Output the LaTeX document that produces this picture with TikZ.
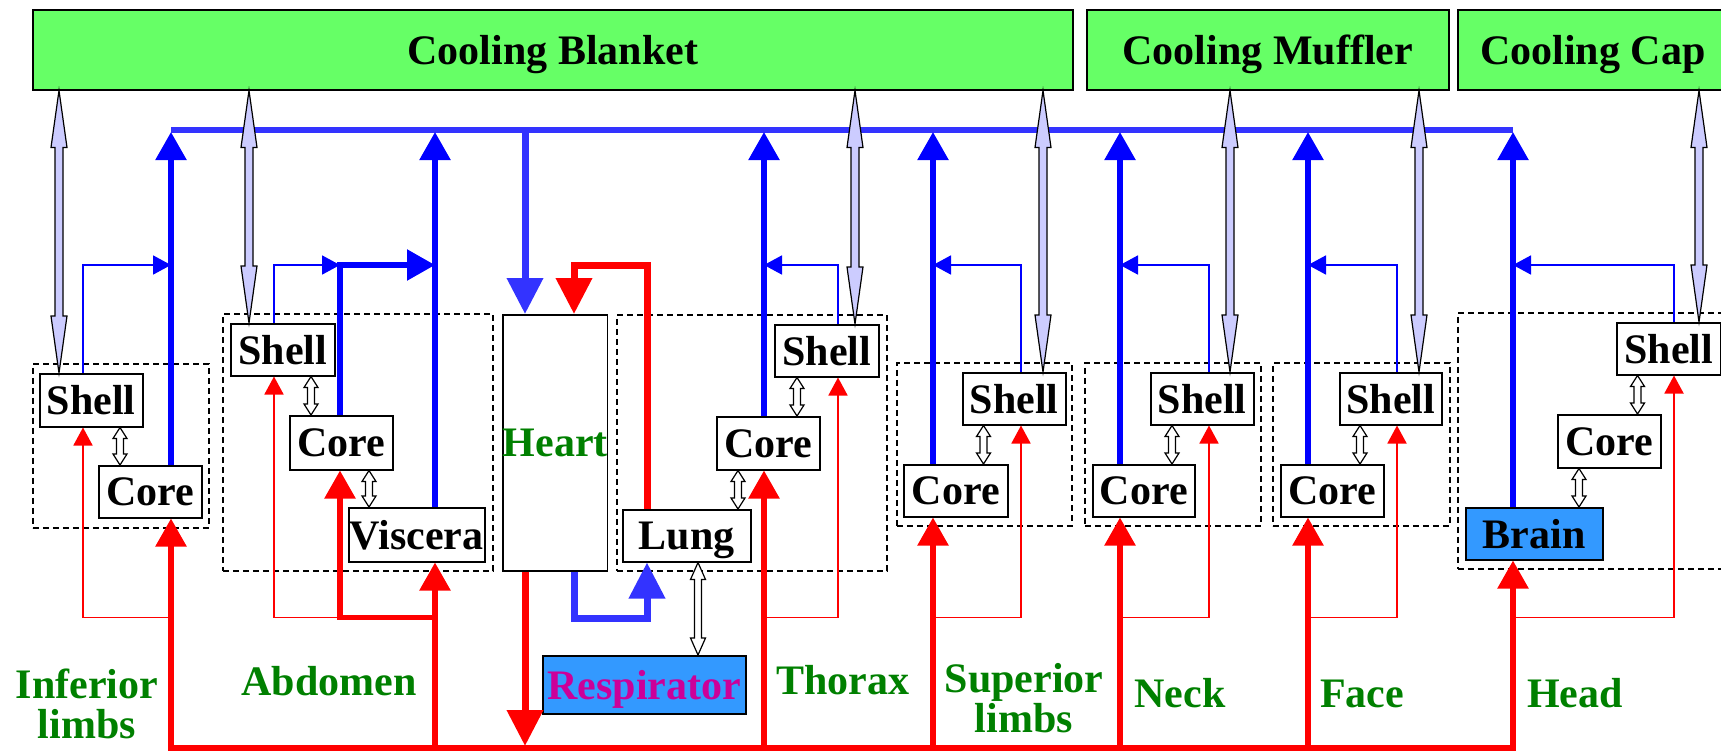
\documentclass[tikz,border=0pt]{standalone}
\usepackage{fontspec}
\setmainfont{Liberation Serif}
\usetikzlibrary{arrows.meta,calc}
\definecolor{cgreen}{RGB}{102,255,102}
\definecolor{cblue}{RGB}{0,0,255}
\definecolor{cbus}{RGB}{51,51,255}
\definecolor{cred}{RGB}{255,0,0}
\definecolor{clav}{RGB}{204,204,255}
\definecolor{cfill}{RGB}{51,153,255}
\definecolor{cmag}{RGB}{204,0,153}
\definecolor{ctext}{RGB}{0,128,0}
\newcommand\lfont{\fontsize{42pt}{40pt}\selectfont\bfseries}
% hollow vertical double arrow: #1 fill, #2 top point, #3 bottom point, #4 head length, #5 head half width, #6 shaft half width
\newcommand\dblarr[6]{%
  \path[draw=black,line width=1.2pt,fill=#1,line join=miter] let \p1=#2, \p2=#3 in
  (\x1,\y1) -- (\x1+#5,\y1-#4) -- (\x1+#6,\y1-#4) -- (\x1+#6,\y2+#4) -- (\x1+#5,\y2+#4)
  -- (\x1,\y2) -- (\x1-#5,\y2+#4) -- (\x1-#6,\y2+#4) -- (\x1-#6,\y1-#4) -- (\x1-#5,\y1-#4) -- cycle;}
\newcommand\bigdbl[2]{\dblarr{clav}{#1}{#2}{57pt}{8pt}{4pt}}
\newcommand\smalldbl[2]{\dblarr{white}{#1}{#2}{11pt}{7pt}{3.5pt}}
\tikzset{
 box/.style={draw=black,line width=1.5pt,fill=white,inner sep=0pt,text depth=0pt,anchor=north west,font=\lfont},
 grp/.style={draw=black,line width=1.5pt,dash pattern=on 6pt off 4pt,inner sep=0pt,anchor=north west},
 thickB/.style={draw=cblue,line width=5.5pt},
 thinB/.style={draw=cblue,line width=1.8pt},
 thickR/.style={draw=cred,line width=5.5pt},
 thinR/.style={draw=cred,line width=1.8pt},
 busB/.style={draw=cbus,line width=6pt},
 busR/.style={draw=cred,line width=6.5pt},
 heartB/.style={draw=cbus,line width=7pt},
 heartR/.style={draw=cred,line width=7pt},
 tipL/.tip={Triangle[length=28pt,width=30pt]},
 tipS/.tip={Triangle[length=18pt,width=19pt]},
 tipH/.tip={Triangle[length=36pt,width=35pt]},
 lab/.style={text=ctext,inner sep=0pt,font=\lfont},
}
\begin{document}
\begin{tikzpicture}[x=1pt,y=-1pt]
\useasboundingbox (0,0) rectangle (1721,753);
% group frames
\node[grp,minimum width=176pt,minimum height=164pt] (gA) at (32,363) {};
\node[grp,minimum width=270pt,minimum height=257pt] (gB) at (222,313) {};
\node[grp,minimum width=270pt,minimum height=256pt] (gC) at (616,314) {};
\node[grp,minimum width=175pt,minimum height=163pt] (gD) at (896,362) {};
\node[grp,minimum width=176pt,minimum height=163pt] (gE) at (1084,362) {};
\node[grp,minimum width=177pt,minimum height=163pt] (gF) at (1272,362) {};
\node[grp,minimum width=290pt,minimum height=256pt] (gG) at (1457,312) {};
% top boxes
\node[box,fill=cgreen,minimum width=1040pt,minimum height=80pt] (blanket) at (32,9) {Cooling Blanket};
\node[box,fill=cgreen,minimum width=362pt,minimum height=80pt] (muffler) at (1086,9) {Cooling Muffler};
\node[box,fill=cgreen,minimum width=270pt,minimum height=80pt] (cap) at (1457,9) {Cooling Cap};
% inner boxes
\node[box,minimum width=103pt,minimum height=53pt] (shA) at (39,373) {Shell};
\node[box,minimum width=103pt,minimum height=52pt] (coA) at (98,465) {Core};
\node[box,minimum width=104pt,minimum height=52pt] (shB) at (230,323) {Shell};
\node[box,minimum width=103pt,minimum height=54pt] (coB) at (289,415) {Core};
\node[box,minimum width=136pt,minimum height=54pt] (vi) at (348,507) {Viscera};
\node[box,text=ctext,minimum width=104pt,minimum height=256pt] (heart) at (502,314) {Heart};
\node[box,minimum width=128pt,minimum height=52pt] (lu) at (622,509) {Lung};
\node[box,minimum width=103pt,minimum height=53pt] (coC) at (716,416) {Core};
\node[box,minimum width=104pt,minimum height=52pt] (shC) at (774,324) {Shell};
\node[box,fill=cfill,text=cmag,minimum width=203pt,minimum height=58pt] (resp) at (542,655) {Respirator};
\node[box,minimum width=103pt,minimum height=52pt] (shD) at (962,372) {Shell};
\node[box,minimum width=104pt,minimum height=52pt] (coD) at (903,464) {Core};
\node[box,minimum width=103pt,minimum height=52pt] (shE) at (1150,372) {Shell};
\node[box,minimum width=102pt,minimum height=52pt] (coE) at (1092,464) {Core};
\node[box,minimum width=102pt,minimum height=52pt] (shF) at (1339,372) {Shell};
\node[box,minimum width=103pt,minimum height=52pt] (coF) at (1280,464) {Core};
\node[box,minimum width=104pt,minimum height=52pt] (shG) at (1616,322) {Shell};
\node[box,minimum width=103pt,minimum height=53pt] (coG) at (1557,414) {Core};
\node[box,fill=cfill,minimum width=137pt,minimum height=52pt] (br) at (1465,507) {Brain};
% buses
\coordinate (busL) at (171,129.5);
\coordinate (busR) at (1513,129.5);
\coordinate (rbusL) at (168.25,748);
\coordinate (rbusR) at (1515.75,748);
\draw[busB] (busL) -- (busR);
\draw[busR] (rbusL) -- (rbusR);
% group A
\draw[thickB,-{tipL}] (coA.north -| 171,0) -- (171,132);
\draw[thinB,-{tipS}] (shA.north -| 83,0) |- (171,265);
\draw[thickR,-{tipL}] (171,748) -- (coA.south -| 171,0);
\draw[thinR,-{tipS}] (171,617.5) -| (shA.south -| 83,0);
\bigdbl{(blanket.south -| 59,0)}{(shA.north -| 59,0)}
\smalldbl{(shA.south -| 120,0)}{(coA.north -| 120,0)}
% group B
\draw[thickB,-{tipL}] (vi.north -| 435,0) -- (435,132);
\draw[thinB,-{tipS}] (shB.north -| 274,0) |- (340,265);
\draw[thickB,-{tipL}] (coB.north -| 340,0) |- (435,265);
\draw[thickR,-{tipL}] (435,748) -- (vi.south -| 435,0);
\draw[thickR,-{tipL}] (435,617.5) -| (coB.south -| 340,0);
\draw[thinR,-{tipS}] (340,617.5) -| (shB.south -| 274,0);
\bigdbl{(blanket.south -| 249,0)}{(shB.north -| 249,0)}
\smalldbl{(shB.south -| 311,0)}{(coB.north -| 311,0)}
\smalldbl{(coB.south -| 369,0)}{(vi.north -| 369,0)}
% heart
\draw[heartB,-{tipH}] (525,129.5) -- (heart.north -| 525,0);
\draw[heartR,-{tipH}] (lu.north -| 647,0) |- (574,265) -- (heart.north -| 574,0);
\draw[heartR,-{tipH}] (heart.south -| 525,0) -- (525,746);
\draw[heartB,-{tipH}] (heart.south -| 574,0) |- (647,618) -- (lu.south -| 647,0);
% group C
\draw[thickB,-{tipL}] (coC.north -| 764,0) -- (764,132);
\draw[thinB,-{tipS}] (shC.north -| 838,0) |- (764,265);
\draw[thickR,-{tipL}] (764,748) -- (coC.south -| 764,0);
\draw[thinR,-{tipS}] (764,617.5) -| (shC.south -| 838,0);
\bigdbl{(blanket.south -| 855,0)}{(shC.north -| 855,0)}
\smalldbl{(shC.south -| 797,0)}{(coC.north -| 797,0)}
\smalldbl{(coC.south -| 738,0)}{(lu.north -| 738,0)}
\dblarr{white}{(lu.south -| 698,0)}{(resp.north -| 698,0)}{17pt}{7.5pt}{3.5pt}
% group D
\draw[thickB,-{tipL}] (coD.north -| 933,0) -- (933,132);
\draw[thinB,-{tipS}] (shD.north -| 1021,0) |- (933,265);
\draw[thickR,-{tipL}] (933,748) -- (coD.south -| 933,0);
\draw[thinR,-{tipS}] (933,617.5) -| (shD.south -| 1021,0);
\bigdbl{(blanket.south -| 1043,0)}{(shD.north -| 1043,0)}
\smalldbl{(shD.south -| 983.5,0)}{(coD.north -| 983.5,0)}
% group E
\draw[thickB,-{tipL}] (coE.north -| 1120,0) -- (1120,132);
\draw[thinB,-{tipS}] (shE.north -| 1209,0) |- (1120,265);
\draw[thickR,-{tipL}] (1120,748) -- (coE.south -| 1120,0);
\draw[thinR,-{tipS}] (1120,617.5) -| (shE.south -| 1209,0);
\bigdbl{(muffler.south -| 1230,0)}{(shE.north -| 1230,0)}
\smalldbl{(shE.south -| 1172,0)}{(coE.north -| 1172,0)}
% group F
\draw[thickB,-{tipL}] (coF.north -| 1308,0) -- (1308,132);
\draw[thinB,-{tipS}] (shF.north -| 1397,0) |- (1308,265);
\draw[thickR,-{tipL}] (1308,748) -- (coF.south -| 1308,0);
\draw[thinR,-{tipS}] (1308,617.5) -| (shF.south -| 1397,0);
\bigdbl{(muffler.south -| 1419,0)}{(shF.north -| 1419,0)}
\smalldbl{(shF.south -| 1360,0)}{(coF.north -| 1360,0)}
% group G
\draw[thickB,-{tipL}] (br.north -| 1513,0) -- (1513,132);
\draw[thinB,-{tipS}] (shG.north -| 1674,0) |- (1513,265);
\draw[thickR,-{tipL}] (1513,748) -- (br.south -| 1513,0);
\draw[thinR,-{tipS}] (1513,617.5) -| (shG.south -| 1674,0);
\bigdbl{(cap.south -| 1699,0)}{(shG.north -| 1699,0)}
\smalldbl{(shG.south -| 1637.5,0)}{(coG.north -| 1637.5,0)}
\smalldbl{(coG.south -| 1579,0)}{(br.north -| 1579,0)}
% labels
\node[lab,align=center,anchor=north] (lInf) at (87,669) {Inferior\\limbs};
\node[lab,anchor=base] (lAbd) at (329,695) {Abdomen};
\node[lab,anchor=base] (lTho) at (843,694) {Thorax};
\node[lab,align=center,anchor=north] (lSup) at (1024,663) {Superior\\limbs};
\node[lab,anchor=base] (lNeck) at (1180,707) {Neck};
\node[lab,anchor=base] (lFace) at (1362,707) {Face};
\node[lab,anchor=base] (lHead) at (1575,707) {Head};
\end{tikzpicture}
\end{document}
